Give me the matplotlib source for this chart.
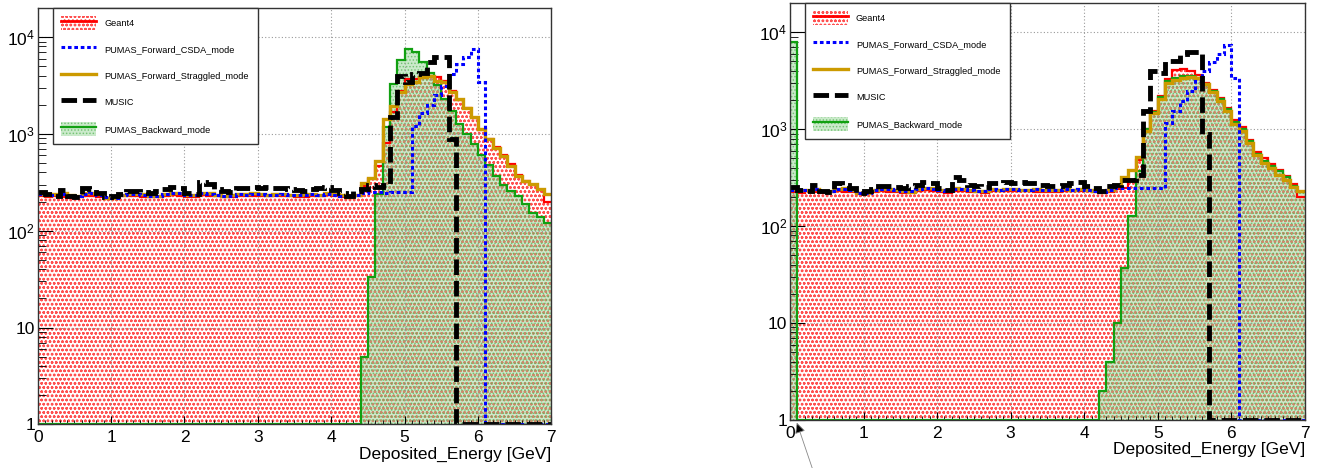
import numpy as np
import matplotlib
matplotlib.use('Agg')
import matplotlib.pyplot as plt
from matplotlib.patches import Patch
from matplotlib.lines import Line2D

plt.rcParams['font.family'] = ['Liberation Sans', 'DejaVu Sans']
plt.rcParams['mathtext.fontset'] = 'custom'
plt.rcParams['mathtext.rm'] = 'Liberation Sans'
plt.rcParams['mathtext.it'] = 'Liberation Sans'
plt.rcParams['hatch.linewidth'] = 0.7

# 70 bins of 0.1 GeV from 0 to 7 GeV
edges = np.linspace(0, 7, 71)

# flat part, bins 0.0 .. 4.3 (44 bins), same in both panels
geant4_flat = [226, 222, 228, 224, 220, 225, 230, 227, 223, 218, 220, 226, 229, 227, 224,
               222, 225, 230, 233, 229, 224, 221, 232, 230, 226, 223, 222, 228, 229, 231,
               228, 230, 229, 227, 226, 224, 225, 228, 230, 232, 228, 224, 220, 226]
csda_flat = [238, 235, 236, 242, 230, 229, 241, 244, 237, 222, 220, 235, 239, 241, 237,
             230, 228, 239, 246, 243, 235, 232, 244, 242, 235, 231, 231, 239, 237, 242,
             239, 235, 237, 239, 233, 235, 237, 239, 235, 242, 237, 231, 226, 235]
strag_flat = [240, 236, 238, 244, 232, 230, 243, 246, 238, 220, 218, 236, 240, 242, 238,
              228, 226, 240, 248, 245, 236, 233, 246, 244, 236, 230, 232, 240, 238, 244,
              240, 236, 238, 240, 234, 236, 238, 240, 236, 244, 238, 232, 225, 236]
music_flat = [253, 238, 230, 265, 228, 225, 275, 268, 247, 222, 228, 242, 257, 257, 253,
              247, 257, 268, 283, 275, 247, 238, 320, 301, 268, 257, 253, 275, 275, 283,
              275, 283, 279, 275, 268, 261, 257, 268, 275, 283, 261, 247, 228, 257]

# peak part, bins 4.4 .. 6.9 (26 bins), left panel
geant4_peak_l = [290, 340, 470, 800, 1700, 2800, 3700, 3700, 3850, 4000, 3900, 3500, 2750,
                 2250, 1850, 1450, 1100, 880, 740, 600, 490, 380, 330, 300, 265, 196]
csda_peak_l = [248, 250, 250, 248, 252, 250, 250, 1210, 1660, 2000, 2500, 3150, 4150,
               5300, 6300, 7500, 3400, 0, 0, 0, 0, 0, 0, 0, 0, 0]
strag_peak_l = [310, 355, 525, 1420, 1950, 2700, 3250, 3400, 3830, 3980, 3550, 3400, 2700,
                2300, 1870, 1480, 1120, 880, 720, 590, 465, 370, 325, 302, 268, 240]
music_peak_l = [268, 300, 280, 300, 1480, 3990, 3400, 4150, 4250, 5500, 6200, 6250, 880,
                0, 0, 0, 0, 0, 0, 0, 0, 0, 0, 0, 0, 0]
backward_l = [0] * 44 + [5, 33, 238, 1170, 3250, 5850, 7550, 7050, 5500, 4300, 3200, 2300,
                         1740, 1260, 1000, 780, 610, 480, 370, 295, 257, 228, 188, 154, 138, 119]

# peak part, right panel
geant4_peak_r = [240, 250, 300, 480, 1000, 1550, 2200, 3300, 4100, 4200, 4000, 3600, 3000,
                 2550, 2100, 1650, 1250, 1050, 780, 580, 500, 440, 380, 330, 270, 200]
csda_peak_r = [246, 246, 247, 245, 246, 247, 246, 1170, 1550, 1960, 2490, 3170, 4000,
               4900, 6000, 7300, 3400, 0, 0, 0, 0, 0, 0, 0, 0, 0]
strag_peak_r = [265, 320, 380, 520, 950, 1450, 2050, 3000, 3250, 3400, 3450, 3350, 2900,
                2400, 1950, 1550, 1120, 950, 720, 540, 450, 400, 340, 300, 255, 230]
music_peak_r = [268, 300, 300, 340, 1550, 4000, 3800, 5100, 5100, 6000, 6300, 6300, 890,
                0, 0, 0, 0, 0, 0, 0, 0, 0, 0, 0, 0, 0]
backward_r = [7900] + [0] * 41 + [2, 4, 10, 37, 127, 370, 1000, 1500, 2130, 3170, 3400, 3550,
                                  3550, 3400, 2950, 2500, 2050, 1620, 1180, 1000, 750, 550,
                                  470, 420, 370, 320, 260, 225]

labels = ['Geant4', 'PUMAS_Forward_CSDA_mode', 'PUMAS_Forward_Straggled_mode',
          'MUSIC', 'PUMAS_Backward_mode']

RED = '#ff0000'
BLUE = '#0000ff'
TAN = '#cc9a00'
GREEN = '#11a011'
G4_FACE = '#ffffff'
G4_HATCH = '#ff5050'
BK_FACE = (0.55, 0.82, 0.55, 0.45)
BK_HATCH = (0.35, 0.72, 0.35, 0.7)
blue_ls = (0, (1.2, 0.9))
music_ls = (0, (3.2, 1.2))


def draw_panel(ax, g4, csda, strag, music, back, leg_x):
    g4 = np.clip(np.array(g4, float), 1, None)
    csda = np.clip(np.array(csda, float), 1, None)
    strag = np.clip(np.array(strag, float), 1, None)
    music = np.clip(np.array(music, float), 1, None)
    back = np.clip(np.array(back, float), 1, None)

    ax.stairs(g4, edges, baseline=1, fill=True, facecolor=G4_FACE, edgecolor=G4_HATCH,
              hatch='oooo', linewidth=0, zorder=1)
    ax.stairs(back, edges, baseline=1, fill=True, facecolor=BK_FACE, edgecolor=BK_HATCH,
              hatch='.....', linewidth=0, zorder=2)
    ax.stairs(g4, edges, baseline=None, color=RED, lw=1.6, zorder=3)
    ax.stairs(back, edges, baseline=None, color=GREEN, lw=1.6, zorder=4)
    ax.stairs(strag, edges, baseline=None, color=TAN, lw=2.4, zorder=5)
    ax.stairs(csda, edges, baseline=None, color=BLUE, lw=2.2, ls=blue_ls, zorder=6)
    ax.stairs(music, edges, baseline=None, color='black', lw=3.5, ls=music_ls, zorder=7)

    ax.set_yscale('log')
    ax.set_xlim(0, 7)
    ax.set_ylim(1, 2.0e4)
    ax.set_yticks([1, 10, 100, 1000, 10000])
    ax.set_yticklabels(['1', '10', '$10^{2}$', '$10^{3}$', '$10^{4}$'])
    ax.set_xticks(range(8))
    ax.set_xticks(np.arange(0, 7.01, 0.1), minor=True)
    ax.tick_params(axis='both', which='both', direction='in', top=False, right=False,
                   labelsize=12.5, pad=2)
    ax.tick_params(axis='x', which='major', length=6, pad=4)
    ax.tick_params(axis='x', which='minor', length=3)
    ax.tick_params(axis='y', which='major', length=11)
    ax.tick_params(axis='y', which='minor', length=5.5)
    ax.grid(True, which='major', ls=(0, (1, 2)), color='#999999', lw=0.8)
    ax.set_axisbelow(False)
    for sp in ax.spines.values():
        sp.set_color('#333333')
        sp.set_linewidth(1.0)
        sp.set_zorder(10)
    ax.set_xlabel('Deposited_Energy [GeV]', fontsize=12.5, loc='right', labelpad=1)

    handles = [
        (Patch(facecolor=G4_FACE, edgecolor=G4_HATCH, hatch='oooo', lw=0),
         Line2D([], [], color=RED, lw=2)),
        Line2D([], [], color=BLUE, lw=2.2, ls=blue_ls),
        Line2D([], [], color=TAN, lw=2.4),
        Line2D([], [], color='black', lw=3.5, ls=music_ls),
        (Patch(facecolor=BK_FACE, edgecolor=BK_HATCH, hatch='.....', lw=0),
         Line2D([], [], color=GREEN, lw=1.6)),
    ]
    leg = ax.legend(handles, labels, loc='upper left', bbox_to_anchor=(leg_x, 0.0, 0.398, 1.0),
                    mode='expand', borderaxespad=0, fontsize=6.6, handlelength=3.8,
                    handleheight=2.0, labelspacing=1.35, handletextpad=0.9, borderpad=0.85,
                    fancybox=False, framealpha=1, edgecolor='#333333')
    leg.get_frame().set_linewidth(1.0)
    leg.set_zorder(20)


fig = plt.figure(figsize=(13.2, 4.68), dpi=100)
ax1 = fig.add_axes([0.0286, 0.093, 0.389, 0.890])
ax2 = fig.add_axes([0.5985, 0.1026, 0.390, 0.891])

draw_panel(ax1, geant4_flat + geant4_peak_l, csda_flat + csda_peak_l,
           strag_flat + strag_peak_l, music_flat + music_peak_l, backward_l, 0.030)
draw_panel(ax2, geant4_flat + geant4_peak_r, csda_flat + csda_peak_r,
           strag_flat + strag_peak_r, music_flat + music_peak_r, backward_r, 0.029)

ax2.annotate('', xy=(0.08, 1.0), xycoords='data', xytext=(0.6165, -0.01),
             textcoords='figure fraction',
             arrowprops=dict(arrowstyle='-|>', fc='black', ec='#888888', lw=0.6,
                             mutation_scale=16), annotation_clip=False, zorder=30)

fig.savefig('out.png', dpi=100)
plt.close(fig)
